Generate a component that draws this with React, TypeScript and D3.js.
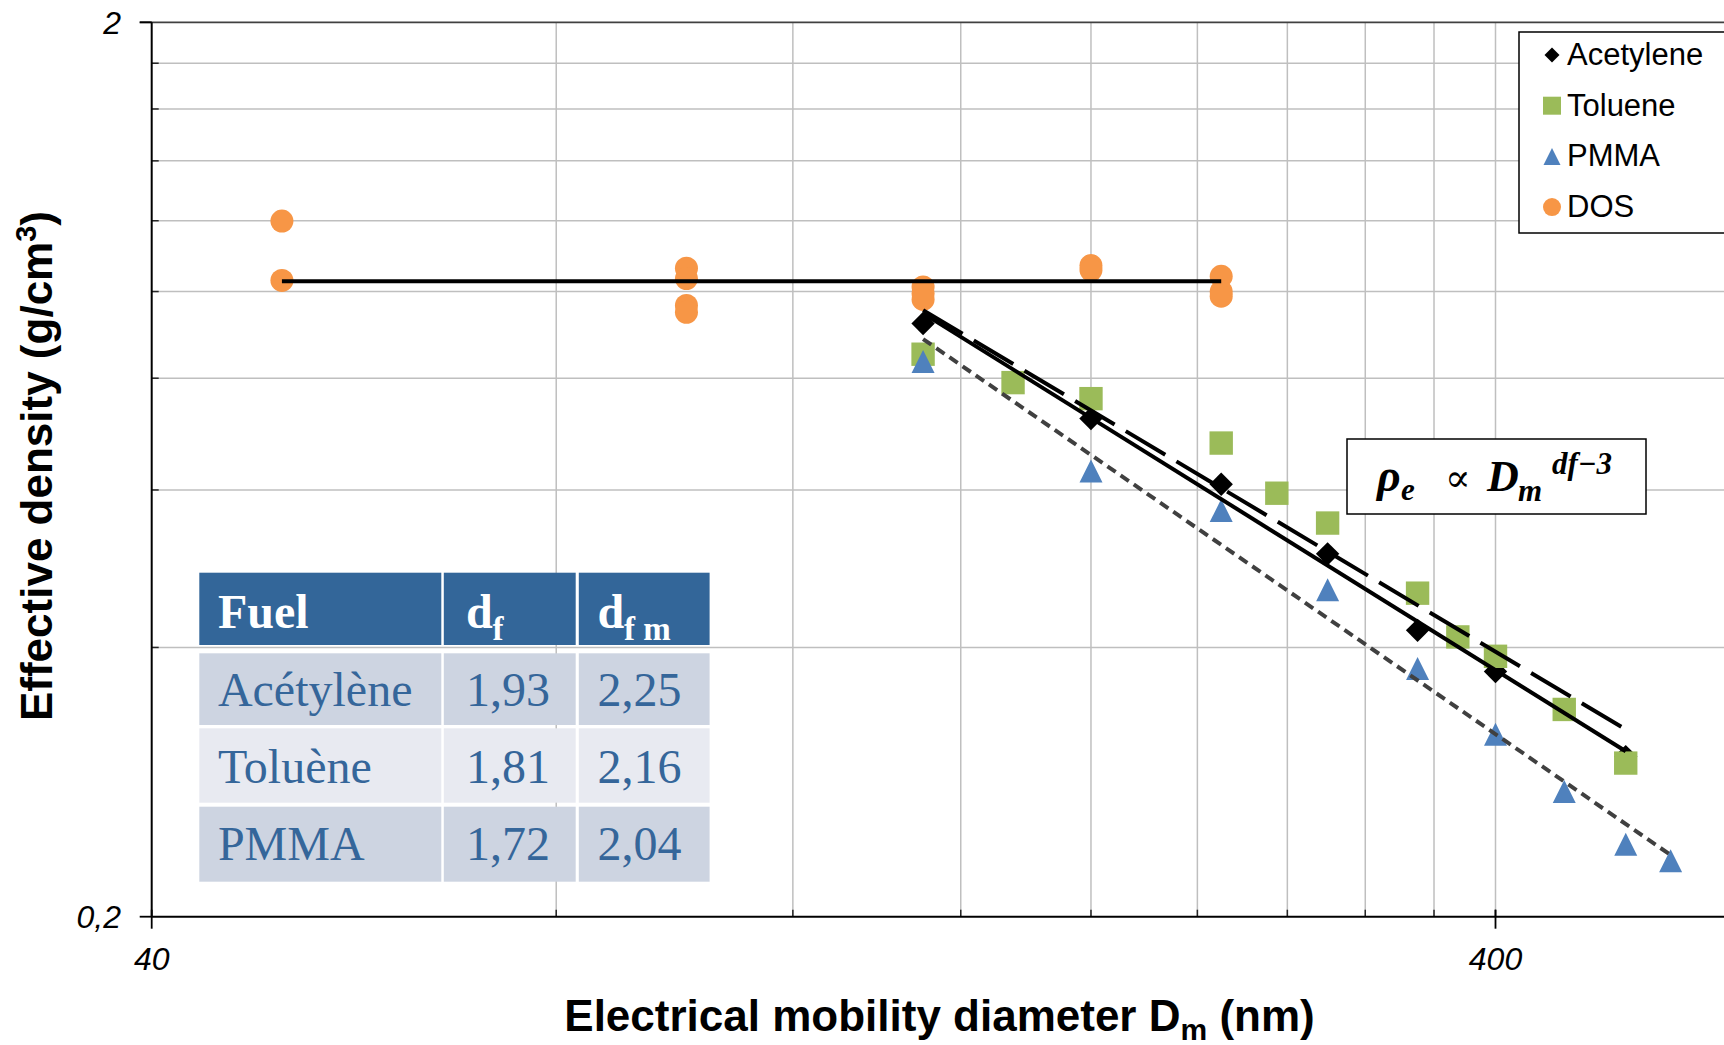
import React from 'react';
import * as d3 from 'd3';

// ---------- data ----------
const acetyleneX = [150, 200, 250, 300, 350, 400, 500];
const acetyleneY = [0.921, 0.721, 0.609, 0.509, 0.418, 0.376, 0.302];
const tolueneX = [150, 175, 200, 250, 275, 300, 350, 375, 400, 450, 500];
const tolueneY = [0.851, 0.791, 0.759, 0.677, 0.595, 0.551, 0.46, 0.411, 0.391, 0.341, 0.297];
const pmmaX = [150, 200, 250, 300, 350, 400, 450, 500, 540];
const pmmaY = [0.835, 0.63, 0.569, 0.464, 0.379, 0.32, 0.276, 0.241, 0.231];
const dosX = [50, 50, 100, 100, 100, 100, 150, 150, 150, 200, 200, 250, 250, 250];
const dosY = [1.199, 1.029, 1.062, 1.034, 0.965, 0.948, 1.012, 0.995, 0.98, 1.069, 1.057, 1.04, 1.0, 0.988];

const xTickValues = [40, 400];
const yTickValues = [0.2, 2];
const legendNames = ['Acetylene', 'Toluene', 'PMMA', 'DOS'];

const tableFuels = ['Acétylène', 'Toluène', 'PMMA'];
const tableDf = ['1,93', '1,81', '1,72'];
const tableDfm = ['2,25', '2,16', '2,04'];

// ---------- helpers ----------
function powerFit(xs: number[], ys: number[]) {
  const lx = xs.map(Math.log10);
  const ly = ys.map(Math.log10);
  const mx = d3.mean(lx) as number;
  const my = d3.mean(ly) as number;
  let sxy = 0, sxx = 0;
  lx.forEach((v, i) => { sxy += (v - mx) * (ly[i] - my); sxx += (v - mx) * (v - mx); });
  const b = sxy / sxx;
  const a = my - b * mx;
  const [x0, x1] = d3.extent(xs) as [number, number];
  return [x0, x1].map(v => [v, Math.pow(10, a + b * Math.log10(v))] as [number, number]);
}

const fmt = (v: number) => String(v).replace('.', ',');

const diamondPath = (r: number) => `M0,${-r}L${r},0L0,${r}L${-r},0Z`;
const squarePath = (r: number) => `M${-r},${-r}H${r}V${r}H${-r}Z`;
const trianglePath = (r: number) => `M0,${-r}L${r},${r}L${-r},${r}Z`;

const COL_ORANGE = '#F79646';
const COL_GREEN = '#9BBB59';
const COL_BLUE = '#4F81BD';
const COL_TABLE = '#336699';

export default function App() {
  const W = 1724, H = 1045;
  const x = d3.scaleLog().domain([40, 400]).range([151.7, 1495.5]);
  const y = d3.scaleLog().domain([0.2, 2]).range([916.7, 22.3]);
  const left = x(40), top = y(2), bottom = y(0.2), right = W;

  const gridX = d3.range(2, 11).map(k => 40 * k);
  const gridY = d3.range(2, 10).map(k => +(0.2 * k).toFixed(1));

  const line = d3.line<[number, number]>().x(d => x(d[0])).y(d => y(d[1]));

  const acFit = powerFit(acetyleneX, acetyleneY);
  const tolFit = powerFit(tolueneX, tolueneY);
  const pmFit = powerFit(pmmaX, pmmaY);
  const dosMean = d3.mean(dosY) as number;
  const dosExt = d3.extent(dosX) as [number, number];
  const dosLine: [number, number][] = [[dosExt[0], dosMean], [dosExt[1], dosMean]];

  const sans = "'Liberation Sans', Arial, sans-serif";
  const serif = "'Liberation Serif', 'Times New Roman', serif";

  // table layout
  const colX = [[199.3, 441.3], [443.8, 575.7], [578.8, 709.6]];
  const rowY = [[572.7, 645], [653.3, 725], [728.3, 802.7], [806.7, 881.7]];
  const textX = [217.9, 465.9, 597.4];
  const baseY = [628, 705.7, 782.7, 860];
  const rowFill = ['#CDD4E1', '#E8EAF1', '#CDD4E1'];

  const legendMarkers = [
    { d: diamondPath(7.5), fill: '#000' },
    { d: squarePath(9), fill: COL_GREEN },
    { d: trianglePath(8.5), fill: COL_BLUE },
    { d: null, fill: COL_ORANGE },
  ];

  return (
    <svg width={W} height={H} style={{ position: 'absolute', left: 0, top: 0, display: 'block', background: '#fff' }}>
      <defs>
        <clipPath id="plot">
          <rect x={left} y={top - 2} width={right - left} height={bottom - top + 4} />
        </clipPath>
      </defs>
      <rect x={0} y={0} width={W} height={H} fill="#fff" />

      {/* gridlines */}
      <g stroke="#BFBFBF" strokeWidth={1.5}>
        {gridX.map(v => <line key={'gx' + v} x1={x(v)} x2={x(v)} y1={top} y2={bottom} />)}
        {gridY.map(v => <line key={'gy' + v} x1={left} x2={right} y1={y(v)} y2={y(v)} />)}
      </g>
      {/* top border */}
      <line x1={left - 12} x2={right} y1={top} y2={top} stroke="#404040" strokeWidth={1.8} />

      {/* minor ticks */}
      <g stroke="#262626" strokeWidth={1.5}>
        {gridX.map(v => <line key={'tx' + v} x1={x(v)} x2={x(v)} y1={bottom - 7} y2={bottom} />)}
        {gridY.map(v => <line key={'ty' + v} x1={left} x2={left + 7} y1={y(v)} y2={y(v)} />)}
      </g>
      {/* major ticks */}
      <g stroke="#000" strokeWidth={1.8}>
        {xTickValues.map(v => <line key={'mx' + v} x1={x(v)} x2={x(v)} y1={bottom - 7} y2={bottom + 12} />)}
        {yTickValues.map(v => <line key={'my' + v} x1={left - 12} x2={left} y1={y(v)} y2={y(v)} />)}
      </g>
      {/* axes */}
      <line x1={left} x2={left} y1={top} y2={bottom} stroke="#000" strokeWidth={2} />
      <line x1={left} x2={right} y1={bottom} y2={bottom} stroke="#000" strokeWidth={2} />

      {/* tick labels */}
      <g fontFamily={sans} fontStyle="italic" fontSize={32} fill="#000">
        {xTickValues.map(v => <text key={'lx' + v} x={x(v)} y={970} textAnchor="middle">{fmt(v)}</text>)}
        {yTickValues.map(v => <text key={'ly' + v} x={121} y={y(v) + 11.5} textAnchor="end">{fmt(v)}</text>)}
      </g>

      {/* axis titles */}
      <text x={939.5} y={1031} textAnchor="middle" fontFamily={sans} fontWeight="bold" fontSize={44} fill="#000">
        Electrical mobility diameter D<tspan fontSize={30} dy={9}>m</tspan><tspan dy={-9}> (nm)</tspan>
      </text>
      <text transform="translate(52,466) rotate(-90)" textAnchor="middle" fontFamily={sans} fontWeight="bold" fontSize={44} fill="#000">
        Effective density (g/cm<tspan fontSize={29} dy={-16}>3</tspan><tspan dy={16}>)</tspan>
      </text>

      {/* table */}
      <g>
        {colX.map((c, ci) => (
          <rect key={'h' + ci} x={c[0]} y={rowY[0][0]} width={c[1] - c[0]} height={rowY[0][1] - rowY[0][0]} fill={COL_TABLE} />
        ))}
        {tableFuels.map((f, ri) => colX.map((c, ci) => (
          <rect key={'c' + ri + ci} x={c[0]} y={rowY[ri + 1][0]} width={c[1] - c[0]} height={rowY[ri + 1][1] - rowY[ri + 1][0]} fill={rowFill[ri]} />
        )))}
        <g fontFamily={serif} fontWeight="bold" fontSize={48} fill="#fff">
          <text x={textX[0]} y={baseY[0]}>Fuel</text>
          <text x={textX[1]} y={baseY[0]}>d<tspan fontSize={33} dy={12}>f</tspan></text>
          <text x={textX[2]} y={baseY[0]}>d<tspan fontSize={33} dy={12}>f m</tspan></text>
        </g>
        <g fontFamily={serif} fontSize={48} fill="#35669A">
          {tableFuels.map((f, i) => (
            <g key={'t' + i}>
              <text x={textX[0]} y={baseY[i + 1]}>{f}</text>
              <text x={textX[1]} y={baseY[i + 1]}>{tableDf[i]}</text>
              <text x={textX[2]} y={baseY[i + 1]}>{tableDfm[i]}</text>
            </g>
          ))}
        </g>
      </g>

      {/* markers */}
      <g clipPath="url(#plot)">
        {acetyleneX.map((v, i) => (
          <path key={'a' + i} d={diamondPath(11.7)} transform={`translate(${x(v)},${y(acetyleneY[i])})`} fill="#000" />
        ))}
        {tolueneX.map((v, i) => (
          <path key={'t' + i} d={squarePath(11.7)} transform={`translate(${x(v)},${y(tolueneY[i])})`} fill={COL_GREEN} />
        ))}
        {pmmaX.map((v, i) => (
          <path key={'p' + i} d={trianglePath(11.5)} transform={`translate(${x(v)},${y(pmmaY[i])})`} fill={COL_BLUE} />
        ))}
        {dosX.map((v, i) => (
          <circle key={'d' + i} cx={x(v)} cy={y(dosY[i])} r={11.5} fill={COL_ORANGE} />
        ))}

        {/* trend lines */}
        <path d={line(acFit) as string} fill="none" stroke="#000" strokeWidth={4} />
        <path d={line(tolFit) as string} fill="none" stroke="#000" strokeWidth={4} strokeDasharray="46 13" />
        <path d={line(pmFit) as string} fill="none" stroke="#404040" strokeWidth={4} strokeDasharray="10 6" />
        <path d={line(dosLine) as string} fill="none" stroke="#000" strokeWidth={4} />
      </g>

      {/* equation box */}
      <rect x={1347} y={439} width={299} height={75} fill="#fff" stroke="#000" strokeWidth={1.5} />
      <g fontFamily={serif} fontWeight="bold" fontStyle="italic" fill="#000">
        <text x={1377} y={491} fontSize={46}>ρ</text>
        <text x={1401} y={500} fontSize={31}>e</text>
        <text x={1445} y={491} fontSize={38} fontWeight="normal" fontStyle="normal" fontFamily="'DejaVu Serif', serif">∝</text>
        <text x={1487} y={491} fontSize={44}>D</text>
        <text x={1518} y={501} fontSize={31}>m</text>
        <text x={1552} y={474} fontSize={31}>df−3</text>
      </g>

      {/* legend */}
      <rect x={1519} y={32} width={230} height={201} fill="#fff" stroke="#000" strokeWidth={1.5} />
      {legendNames.map((n, i) => {
        const by = 65 + i * 50.7;
        const m = legendMarkers[i];
        return (
          <g key={'lg' + i}>
            {m.d ? (
              <path d={m.d} transform={`translate(1552,${by - 10})`} fill={m.fill} />
            ) : (
              <circle cx={1552} cy={by - 10} r={9} fill={m.fill} />
            )}
            <text x={1567} y={by} fontFamily={sans} fontSize={31} fill="#000">{n}</text>
          </g>
        );
      })}
    </svg>
  );
}
